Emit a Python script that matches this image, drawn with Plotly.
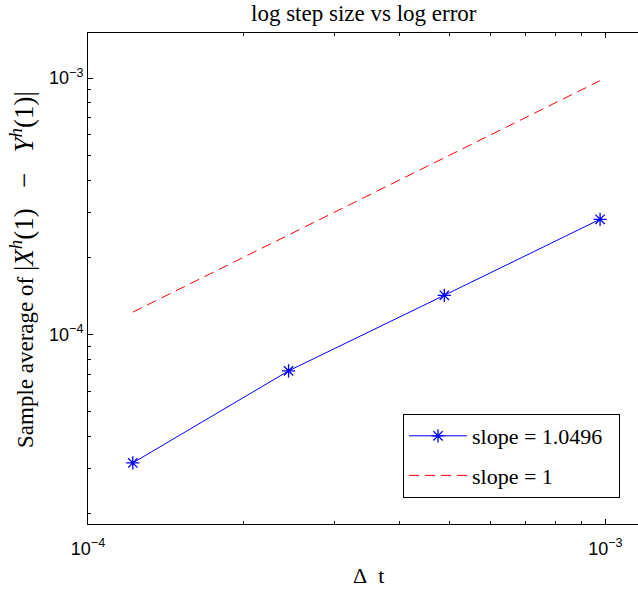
import plotly.graph_objects as go

dt = [1.2207e-4, 2.4414e-4, 4.8828e-4, 9.7656e-4]
err = [3.15e-5, 7.2e-5, 1.42e-4, 2.81e-4]
ref = [1.2207e-4, 2.4414e-4, 4.8828e-4, 9.7656e-4]
major_ticks = [1e-4, 1e-3]
major_labels = ["10<sup>\u22124</sup>", "10<sup>\u22123</sup>"]
x_minor = [2e-4, 3e-4, 4e-4, 5e-4, 6e-4, 7e-4, 8e-4, 9e-4]
y_minor = [2e-5, 3e-5, 4e-5, 5e-5, 6e-5, 7e-5, 8e-5, 9e-5,
           2e-4, 3e-4, 4e-4, 5e-4, 6e-4, 7e-4, 8e-4, 9e-4]

serif = "Liberation Serif"
sans = "Liberation Sans"

# the axes box runs past the right edge of the 638 px window, as in the reference
W, H = 650, 592
ML, MT, MB = 88, 33, 68
PW = W - ML
PH = H - MT - MB


def px(page_x):
    return (page_x - ML) / PW


def py(page_y):
    return (H - MB - page_y) / PH


fig = go.Figure()
fig.add_trace(go.Scatter(
    x=dt, y=err, mode="lines+markers", name="slope = 1.0496&nbsp;&nbsp;",
    legendgroup="a",
    line=dict(color="#0000ff", width=1),
    marker=dict(symbol="asterisk-open", size=11, color="#0000ff",
                line=dict(color="#0000ff", width=1.3)),
))
fig.add_trace(go.Scatter(
    x=ref, y=ref, mode="lines", name="slope = 1",
    legendgroup="b",
    line=dict(color="#ff0000", width=1, dash="10px,6px"),
))

ylab = ("Sample average of&nbsp;<span style='font-size:27px'>|<i>X</i><sup><i>h</i></sup>(1)"
        "&nbsp;&nbsp;&nbsp;\u2212&nbsp;&nbsp;&nbsp;<i>Y</i><sup><i>h</i></sup>(1)|</span>")

fig.update_layout(
    width=W, height=H,
    margin=dict(l=ML, r=0, t=MT, b=MB, pad=0),
    paper_bgcolor="white", plot_bgcolor="white",
    showlegend=True,
    legend=dict(
        x=px(403), y=py(414), xanchor="left", yanchor="top",
        bordercolor="black", borderwidth=1, bgcolor="white",
        font=dict(family=serif, size=22, color="black"),
        itemwidth=58, traceorder="grouped", tracegroupgap=8,
    ),
    annotations=[
        dict(text="log step size vs log error", x=px(364), y=py(-1),
             xref="paper", yref="paper", yanchor="top", showarrow=False,
             font=dict(family=serif, size=23, color="black")),
        dict(text="\u0394&nbsp;&nbsp;t", x=px(368), y=py(575),
             xref="paper", yref="paper", yanchor="middle", showarrow=False,
             font=dict(family=serif, size=22, color="black")),
        dict(text=ylab, x=px(22), y=py(270), xref="paper", yref="paper",
             xanchor="center", yanchor="middle",
             textangle=-90, showarrow=False,
             font=dict(family=serif, size=23, color="black")),
    ],
)

fig.update_xaxes(
    type="log", range=[-4, -4 + PW / 517.4],
    showgrid=False, zeroline=False,
    showline=True, linecolor="black", linewidth=1, mirror="ticks",
    ticks="inside", ticklen=5, tickcolor="black",
    tickmode="array", tickvals=major_ticks, ticktext=major_labels,
    tickfont=dict(family=sans, size=18, color="black"),
    ticklabelstandoff=8,
    minor=dict(tickmode="array", tickvals=x_minor, ticks="inside", ticklen=3,
               tickcolor="black", showgrid=False),
)
fig.update_yaxes(
    type="log", range=[-4.740, -2.8244],
    showgrid=False, zeroline=False,
    showline=True, linecolor="black", linewidth=1, mirror=False,
    ticks="inside", ticklen=5, tickcolor="black",
    tickmode="array", tickvals=major_ticks, ticktext=major_labels,
    tickfont=dict(family=sans, size=18, color="black"),
    minor=dict(tickmode="array", tickvals=y_minor, ticks="inside", ticklen=3,
               tickcolor="black", showgrid=False),
)

fig.write_html(
    "out.html",
    config={"displayModeBar": False},
    post_script="document.body.style.margin='0';document.body.style.overflow='hidden';",
)
